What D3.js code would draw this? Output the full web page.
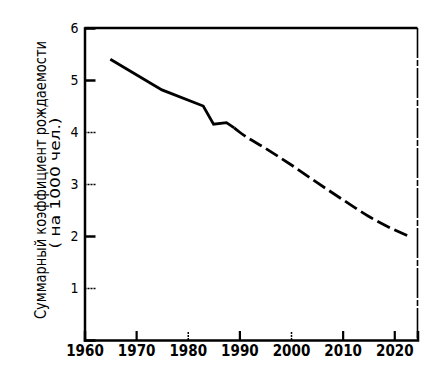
<!DOCTYPE html>
<html>
<head>
<meta charset="utf-8">
<script src="https://cdn.jsdelivr.net/npm/d3@7"></script>
<style>
  body { margin: 0; background: #fff; }
  text { font-family: "DejaVu Sans Condensed", "DejaVu Sans", sans-serif; fill: #000; }
</style>
</head>
<body>
<svg width="425" height="381"></svg>
<script>
// observed (solid) part
const factYears = [1965, 1975, 1983, 1985, 1987.5, 1989];
const factRates = [5.4, 4.81, 4.5, 4.15, 4.18, 4.08];
// projection (dashed)
const projYears = [1989, 1990, 1995, 2000, 2005, 2010, 2015, 2020, 2023];
const projRates = [4.08, 4.0, 3.69, 3.37, 3.03, 2.7, 2.38, 2.12, 1.99];

const xTicks = [1960, 1970, 1980, 1990, 2000, 2010, 2020];
const yTicks = [1, 2, 3, 4, 5, 6];
const yTitle = "Суммарный коэффициент рождаемости";
const yTitle2 = "( на 1000 чел.)";

var svg = d3.select("svg");

var x = d3.scaleLinear().domain([1960, 2024.5]).range([84.5, 417.5]);
var y = d3.scaleLinear().domain([0, 6]).range([340, 28]);

// frame: top and right
svg.append("line")
  .attr("x1", x.range()[0]).attr("x2", x.range()[1])
  .attr("y1", y(6)).attr("y2", y(6))
  .attr("stroke", "#000").attr("stroke-width", 2.5);
svg.append("line")
  .attr("x1", x.range()[1]).attr("x2", x.range()[1])
  .attr("y1", y(6)).attr("y2", y(0))
  .attr("stroke", "#000").attr("stroke-width", 1.6)
  .attr("stroke-dasharray", "30,2,6,2");

// left axis
var gy = svg.append("g")
  .attr("transform", "translate(" + x.range()[0] + ",0)")
  .call(d3.axisLeft(y).tickValues(yTicks).tickSize(-11).tickFormat(d3.format("d")));
gy.select(".domain").attr("stroke-width", 2.5);
gy.selectAll(".tick line")
  .attr("stroke-width", d => (d === 5 || d === 2) ? 2.5 : 1.5)
  .attr("stroke-dasharray", d => (d === 5 || d === 2) ? null : "2,1")
  .attr("x2", d => d === 6 ? 0 : 11);
gy.selectAll(".tick text")
  .attr("x", -6)
  .style("font-size", "14px");

// bottom axis
var gx = svg.append("g")
  .attr("transform", "translate(0," + y.range()[0] + ")")
  .call(d3.axisBottom(x).tickValues(xTicks).tickSize(-9).tickFormat(d3.format("d")));
gx.select(".domain").attr("stroke-width", 2.5);
gx.selectAll(".tick line")
  .attr("y2", d => d === 1960 ? 0 : -9)
  .attr("stroke-width", d => (d === 1980 || d === 2000) ? 1.5 : 2.2)
  .attr("stroke-dasharray", d => (d === 1980 || d === 2000) ? "2,1" : null);
gx.selectAll(".tick text")
  .attr("y", 5)
  .style("font-size", "15px")
  .style("font-weight", "bold");

// y title
svg.append("text")
  .attr("transform", "translate(46," + 180 + ") rotate(-90)")
  .attr("text-anchor", "middle")
  .attr("textLength", 278)
  .attr("lengthAdjust", "spacingAndGlyphs")
  .style("font-size", "15px")
  .text(yTitle);
svg.append("text")
  .attr("transform", "translate(60," + 183 + ") rotate(-90)")
  .attr("text-anchor", "middle")
  .attr("textLength", 131)
  .attr("lengthAdjust", "spacingAndGlyphs")
  .style("font-size", "14px")
  .text(yTitle2);

var line = d3.line()
  .x(d => x(d[0]))
  .y(d => y(d[1]))
  .curve(d3.curveMonotoneX);

svg.append("path")
  .datum(d3.zip(factYears, factRates))
  .attr("fill", "none")
  .attr("stroke", "#000")
  .attr("stroke-width", 2.8)
  .attr("d", d3.line().x(d => x(d[0])).y(d => y(d[1])));

svg.append("path")
  .datum(d3.zip(projYears, projRates))
  .attr("fill", "none")
  .attr("stroke", "#000")
  .attr("stroke-width", 2.8)
  .attr("stroke-dasharray", "14,5")
  .attr("d", line);
</script>
</body>
</html>
